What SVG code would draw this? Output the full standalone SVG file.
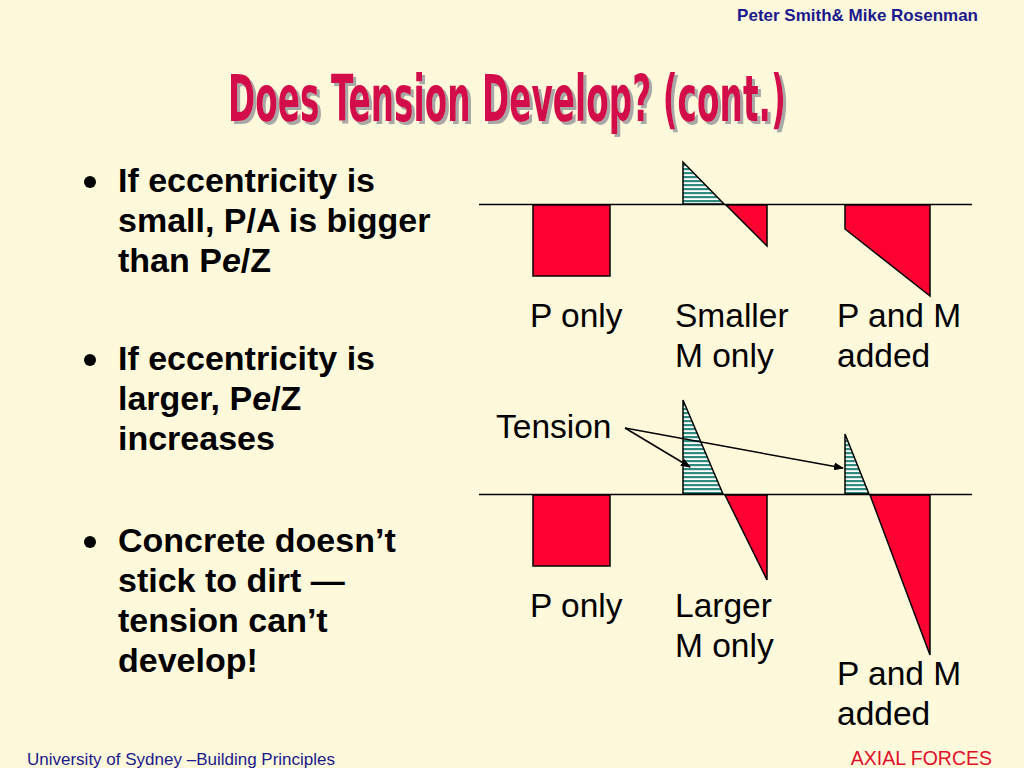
<svg xmlns="http://www.w3.org/2000/svg" width="1024" height="768" viewBox="0 0 1024 768">
<defs>
<pattern id="hatch" patternUnits="userSpaceOnUse" width="8" height="4">
<rect width="8" height="4" fill="#ffffff"/>
<rect width="8" height="2.2" fill="#2e8b7e"/>
</pattern>
<marker id="arr" markerWidth="10" markerHeight="8" refX="9" refY="4" orient="auto" markerUnits="userSpaceOnUse">
<path d="M0,0 L10,4 L0,8 z" fill="#000"/>
</marker>
<filter id="shadow" x="-5%" y="-20%" width="110%" height="140%">
<feFlood flood-color="#a8a8a8" result="c"/>
<feComposite in="c" in2="SourceAlpha" operator="in" result="s"/>
<feOffset in="s" dx="3" dy="3" result="o"/>
<feMerge><feMergeNode in="o"/><feMergeNode in="SourceGraphic"/></feMerge>
</filter>
<style>
.t{font-family:"Liberation Sans",Arial,sans-serif;}
.b{font-family:"Liberation Sans",Arial,sans-serif;font-weight:bold;font-size:34px;fill:#000;}
.lab{font-family:"Liberation Sans",Arial,sans-serif;font-size:33.5px;fill:#000;}
.red{fill:#ff0033;stroke:#000;stroke-width:1.5;}
.hat{fill:url(#hatch);stroke:#000;stroke-width:1.5;}
.base{stroke:#000;stroke-width:1.5;}
.title{font-family:"DejaVu Sans Condensed","DejaVu Sans",sans-serif;font-weight:bold;font-size:64px;}
</style>
</defs>
<rect width="1024" height="768" fill="#fff9dc"/>
<text class="t" x="978" y="21" text-anchor="end" font-size="17" font-weight="bold" fill="#1a1a8c">Peter Smith&amp; Mike Rosenman</text>
<g id="title">
<text class="title" x="228" y="121" fill="#d2104a" filter="url(#shadow)" textLength="558" lengthAdjust="spacingAndGlyphs">Does Tension Develop? (cont.)</text>
</g>
<g id="bullets">
<circle cx="90" cy="182" r="6" fill="#000"/>
<text class="b" x="118" y="192">If eccentricity is</text>
<text class="b" x="118" y="232">small, P/A is bigger</text>
<text class="b" x="118" y="272">than P<tspan font-style="italic">e</tspan>/Z</text>
<circle cx="90" cy="360" r="6" fill="#000"/>
<text class="b" x="118" y="370">If eccentricity is</text>
<text class="b" x="118" y="410">larger, P<tspan font-style="italic">e</tspan>/Z</text>
<text class="b" x="118" y="450">increases</text>
<circle cx="90" cy="542" r="6" fill="#000"/>
<text class="b" x="118" y="552">Concrete doesn’t</text>
<text class="b" x="118" y="592">stick to dirt —</text>
<text class="b" x="118" y="632">tension can’t</text>
<text class="b" x="118" y="672">develop!</text>
</g>
<g id="top-diagrams">
<line class="base" x1="479" y1="204.5" x2="972" y2="204.5"/>
<rect class="red" x="533" y="205" width="77" height="71"/>
<polygon class="hat" points="683,162 683,204 724,204"/>
<polygon class="red" points="726,205 767,205 767,246"/>
<polygon class="red" points="845,205 930,205 930,296 845,229"/>
<text class="lab" x="530" y="327">P only</text>
<text class="lab" x="675" y="327">Smaller</text>
<text class="lab" x="675" y="367">M only</text>
<text class="lab" x="837" y="327">P and M</text>
<text class="lab" x="837" y="367">added</text>
</g>
<g id="bottom-diagrams">
<line class="base" x1="479" y1="494.5" x2="972" y2="494.5"/>
<rect class="red" x="533" y="495" width="77" height="71"/>
<polygon class="hat" points="683,400 683,494 723,494"/>
<polygon class="red" points="725,495 767,495 767,580"/>
<polygon class="hat" points="845,434 845,494 869,494"/>
<polygon class="red" points="870,495 930,495 930,655"/>
<text class="lab" x="530" y="617">P only</text>
<text class="lab" x="675" y="617">Larger</text>
<text class="lab" x="675" y="657">M only</text>
<text class="lab" x="837" y="685">P and M</text>
<text class="lab" x="837" y="725">added</text>
<text class="lab" x="496" y="438">Tension</text>
</g>
<g id="connectors">
<line x1="625" y1="428" x2="690" y2="467" stroke="#000" stroke-width="1.5" marker-end="url(#arr)"/>
<line x1="625" y1="428" x2="843" y2="468" stroke="#000" stroke-width="1.5" marker-end="url(#arr)"/>
</g>
<text class="t" x="27" y="765" font-size="17" fill="#1a1a8c">University of Sydney –Building Principles</text>
<text class="t" x="992" y="765" text-anchor="end" font-size="19.5" fill="#e0102a">AXIAL FORCES</text>
</svg>
